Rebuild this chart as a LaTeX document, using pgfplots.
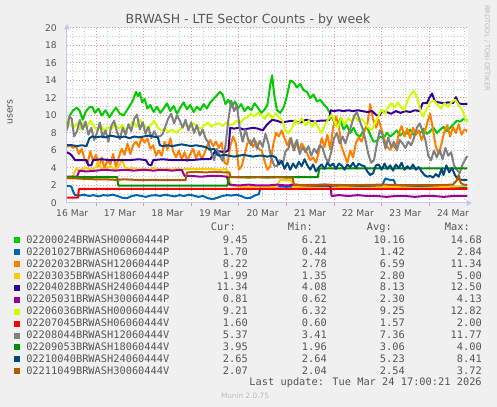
\documentclass[border=0pt]{standalone}
\usepackage{fontspec}
\setmainfont{DejaVu Sans}
\newfontfamily\mono{DejaVu Sans Mono}
\usepackage{pgfplots}
\pgfplotsset{compat=1.18}
\usetikzlibrary{arrows.meta}

\definecolor{bgc}{HTML}{F0F0F0}
\definecolor{txt}{HTML}{555555}
\definecolor{axc}{HTML}{C4C8F0}
\definecolor{mgrid}{HTML}{E39A9A}
\definecolor{ngrid}{HTML}{CCCCCC}
\definecolor{wm}{HTML}{BBBBBB}
\definecolor{c1}{HTML}{00CC00}
\definecolor{c2}{HTML}{0066B3}
\definecolor{c3}{HTML}{FF8000}
\definecolor{c4}{HTML}{FFCC00}
\definecolor{c5}{HTML}{330099}
\definecolor{c6}{HTML}{990099}
\definecolor{c7}{HTML}{CCFF00}
\definecolor{c8}{HTML}{FF0000}
\definecolor{c9}{HTML}{808080}
\definecolor{c10}{HTML}{008F00}
\definecolor{c11}{HTML}{00487D}
\definecolor{c12}{HTML}{B35A00}

\begin{document}
\begin{tikzpicture}[x=0.75pt,y=0.75pt]
\fill[bgc] (0,0) rectangle (497,407);
\begin{axis}[
  at={(50.25pt,153pt)}, anchor=south west,
  scale only axis, width=300.75pt, height=131.25pt,
  xmin=0.39, xmax=8.815, ymin=0, ymax=20,
  axis background/.style={fill=white},
  axis x line*=bottom, axis y line*=left,
  axis line style={draw=axc, line width=0.75pt, -{Triangle[length=4pt,width=4pt]}, shorten >=-3pt},
  grid=both,
  major grid style={draw=mgrid, line width=0.75pt, dash pattern=on 0.75pt off 1.5pt},
  minor grid style={draw=ngrid, line width=0.75pt, dash pattern=on 0.75pt off 1.5pt},
  xtick={1,2,3,4,5,6,7,8}, xticklabels={},
  minor xtick={0.5,0.75,1.25,1.5,1.75,2.25,2.5,2.75,3.25,3.5,3.75,4.25,4.5,4.75,5.25,5.5,5.75,6.25,6.5,6.75,7.25,7.5,7.75,8.25,8.5,8.75},
  ytick={0,2,...,20}, minor ytick={1,3,...,19},
  extra x ticks={0.5,1.5,2.5,3.5,4.5,5.5,6.5,7.5,8.5},
  extra x tick labels={16 Mar,17 Mar,18 Mar,19 Mar,20 Mar,21 Mar,22 Mar,23 Mar,24 Mar},
  extra x tick style={grid=none, major tick length=0pt},
  tick label style={font=\fontsize{6.9}{8}\selectfont, text=txt},
  xticklabel style={inner sep=0pt, anchor=north, yshift=-4.7pt},
  yticklabel style={inner sep=0pt, anchor=east, xshift=-5.25pt},
  ytick style={draw=none},
  xtick style={draw=mgrid, line width=0.75pt},
  tick align=outside, major tick length=2.25pt, minor tick length=0pt,
  /pgf/number format/assume math mode=true,
  every axis plot/.append style={line width=1.5pt, mark=none, line join=round},
]
% 02200024BRWASH00060444P
\addplot[c1] coordinates {
(0.39,8.9) (0.45,10.0) (0.52,10.6) (0.6,10.9) (0.66,10.5) (0.72,9.5) (0.78,10.4) (0.85,10.9) (0.92,11.0) (0.98,10.3) (1.05,10.8) (1.12,10.0) (1.2,10.6) (1.28,9.8) (1.35,10.4) (1.42,10.9) (1.5,10.2) (1.58,10.0) (1.65,10.6) (1.72,11.2) (1.78,11.8) (1.84,12.7) (1.88,12.2) (1.92,12.6) (1.97,11.5) (2.02,11.9) (2.08,10.8) (2.14,11.2) (2.21,10.4) (2.28,11.0) (2.35,10.3) (2.42,10.8) (2.49,11.4) (2.56,10.5) (2.63,11.1) (2.7,10.2) (2.77,10.9) (2.84,11.5) (2.91,10.7) (2.98,11.2) (3.05,10.4) (3.12,11.0) (3.19,10.6) (3.26,11.3) (3.33,10.8) (3.40,11.5) (3.47,11.9) (3.54,12.3) (3.6,12.7) (3.66,12.4) (3.72,11.3) (3.78,11.8) (3.85,11.0) (3.92,11.6) (3.98,10.8) (4.05,11.3) (4.12,10.5) (4.19,11.0) (4.26,10.6) (4.33,11.4) (4.40,10.9) (4.47,10.3) (4.53,10.6) (4.6,11.2) (4.66,13.5) (4.7,14.6) (4.74,12.5) (4.8,10.6) (4.87,10.3) (4.94,10.9) (5.0,12.0) (5.08,14.0) (5.15,13.8) (5.22,13.2) (5.29,13.6) (5.36,12.9) (5.43,12.7) (5.5,12.0) (5.57,12.4) (5.64,11.6) (5.71,11.8) (5.78,11.3) (5.85,10.9) (5.92,10.2) (5.99,9.4) (6.06,8.8) (6.13,9.6) (6.2,8.4) (6.27,8.9) (6.34,8.0) (6.41,8.6) (6.48,7.8) (6.55,7.6) (6.62,8.3) (6.69,8.7) (6.76,7.8) (6.83,7.0) (6.9,7.1) (6.97,7.6) (7.04,7.4) (7.11,8.0) (7.18,7.6) (7.25,7.9) (7.32,8.3) (7.39,7.7) (7.46,8.1) (7.53,7.9) (7.6,8.4) (7.67,7.8) (7.74,8.2) (7.81,8.0) (7.88,8.5) (7.95,7.9) (8.02,8.2) (8.09,8.6) (8.16,8.0) (8.23,8.4) (8.30,8.7) (8.37,8.2) (8.44,8.6) (8.51,9.0) (8.58,9.4) (8.65,9.3) (8.72,9.6) (8.8,9.45)
};
% 02201027BRWASH06060444P
\addplot[c2] coordinates {
(0.39,1.95) (0.48,1.9) (0.52,1.3) (0.56,0.9) (0.65,0.85) (0.75,0.95) (0.85,0.8) (0.95,0.9) (1.05,0.75) (1.15,0.9) (1.25,0.85) (1.35,0.95) (1.45,0.8) (1.55,0.6) (1.65,0.55) (1.75,0.8) (1.85,0.9) (1.95,0.8) (2.05,0.7) (2.15,0.85) (2.25,0.9) (2.35,0.8) (2.45,0.95) (2.55,0.85) (2.65,0.75) (2.75,0.9) (2.85,0.8) (2.95,0.95) (3.05,0.85) (3.15,0.7) (3.25,0.8) (3.35,0.55) (3.45,0.44) (3.55,0.6) (3.65,0.8) (3.75,0.9) (3.85,0.85) (3.95,0.95) (4.05,0.8) (4.15,0.55) (4.25,0.6) (4.35,0.9) (4.42,1.0) (4.46,1.9) (4.6,1.85) (4.8,1.9) (5.0,1.85) (5.2,1.9) (5.4,1.85) (5.6,1.9) (5.8,1.85) (6.0,1.9) (6.2,1.85) (6.4,1.9) (6.6,1.85) (6.8,1.9) (7.0,1.9) (7.08,2.8) (7.2,2.6) (7.26,2.6) (7.3,1.9) (7.5,1.85) (7.7,1.9) (7.9,1.85) (8.1,1.8) (8.3,1.85) (8.5,1.8) (8.7,1.75) (8.8,1.7)
};
% 02202032BRWASH12060444P
\addplot[c3] coordinates {
(0.39,6.4) (0.45,6.6) (0.52,6.3) (0.58,6.5) (0.64,5.6) (0.7,6.2) (0.76,5.0) (0.82,4.5) (0.88,5.9) (0.94,4.8) (1.0,5.5) (1.06,4.2) (1.12,5.2) (1.18,3.9) (1.24,5.0) (1.3,4.4) (1.36,5.6) (1.42,4.0) (1.48,5.3) (1.54,6.2) (1.6,5.5) (1.66,6.8) (1.72,5.6) (1.78,6.6) (1.84,7.0) (1.9,6.4) (1.96,7.5) (2.02,6.9) (2.08,7.4) (2.14,6.2) (2.2,6.6) (2.26,5.4) (2.32,6.0) (2.38,5.4) (2.44,7.0) (2.5,6.1) (2.56,7.4) (2.62,5.9) (2.68,5.2) (2.74,6.0) (2.8,5.0) (2.86,5.8) (2.92,4.8) (2.98,5.6) (3.04,6.2) (3.1,5.1) (3.16,5.9) (3.22,5.0) (3.28,5.7) (3.34,6.6) (3.4,7.2) (3.46,6.5) (3.52,7.0) (3.58,6.3) (3.64,6.9) (3.7,4.6) (3.76,4.4) (3.82,6.5) (3.88,7.6) (3.94,6.8) (4.0,3.8) (4.06,4.2) (4.12,5.5) (4.18,6.8) (4.24,7.2) (4.3,6.4) (4.36,7.0) (4.42,6.2) (4.48,6.0) (4.54,4.8) (4.6,3.8) (4.66,4.2) (4.72,6.6) (4.78,8.0) (4.84,7.6) (4.9,8.3) (4.96,7.4) (5.02,6.6) (5.08,7.4) (5.14,6.2) (5.2,7.0) (5.26,6.0) (5.32,6.8) (5.38,6.3) (5.44,5.6) (5.5,4.9) (5.56,5.2) (5.62,4.6) (5.68,5.8) (5.74,7.4) (5.8,6.4) (5.86,7.8) (5.92,6.1) (5.98,8.6) (6.04,9.9) (6.1,8.8) (6.16,6.4) (6.22,5.5) (6.28,4.6) (6.34,6.0) (6.4,5.2) (6.46,6.9) (6.52,7.5) (6.58,7.0) (6.64,8.2) (6.7,9.0) (6.76,11.3) (6.82,9.6) (6.88,8.6) (6.94,9.5) (7.0,8.4) (7.06,7.2) (7.12,6.4) (7.18,6.1) (7.24,6.6) (7.3,6.2) (7.36,8.0) (7.42,8.8) (7.48,7.6) (7.54,8.5) (7.6,7.4) (7.66,8.6) (7.72,7.8) (7.78,8.3) (7.84,7.2) (7.9,8.0) (7.96,9.2) (8.02,10.2) (8.08,8.4) (8.14,6.4) (8.2,5.6) (8.26,6.8) (8.32,8.2) (8.38,8.9) (8.44,7.6) (8.5,8.7) (8.56,8.0) (8.62,9.0) (8.68,7.8) (8.74,8.4) (8.8,8.22)
};
% 02203035BRWASH18060444P
\addplot[c4] coordinates {
(0.39,2.8) (0.5,2.8) (0.55,3.6) (0.6,4.0) (0.65,3.5) (0.7,3.9) (0.8,4.0) (0.9,3.8) (1.0,4.1) (1.05,4.8) (1.1,4.0) (1.2,3.9) (1.3,4.2) (1.4,3.8) (1.5,4.4) (1.55,5.0) (1.6,4.1) (1.7,3.9) (1.8,4.0) (1.9,3.8) (2.0,3.9) (2.1,3.8) (2.2,4.0) (2.3,3.9) (2.4,3.8) (2.5,3.9) (2.6,3.8) (2.7,3.9) (2.8,3.8) (2.9,3.9) (3.0,3.9) (3.2,3.9) (3.4,3.9) (3.6,3.8) (3.74,3.9) (3.78,2.8) (3.85,2.0) (4.0,1.9) (4.2,1.8) (4.4,1.9) (4.6,1.8) (4.8,1.9) (4.86,2.6) (5.0,2.6) (5.1,2.6) (5.14,1.8) (5.4,1.8) (5.8,1.7) (6.2,1.8) (6.6,1.7) (7.0,1.8) (7.4,1.8) (7.8,1.7) (8.2,1.8) (8.6,1.9) (8.8,1.99)
};
% 02204028BRWASH24060444P
\addplot[c5] coordinates {
(0.39,5.8) (0.46,5.6) (0.52,5.2) (0.56,4.9) (0.7,4.9) (0.8,4.9) (0.84,4.3) (0.9,4.3) (0.94,4.9) (1.1,5.0) (1.3,4.9) (1.5,4.9) (1.7,4.9) (1.9,5.0) (2.05,4.9) (2.1,4.4) (2.16,4.3) (2.2,4.9) (2.4,5.0) (2.6,4.9) (2.8,4.9) (3.0,4.9) (3.2,5.0) (3.4,5.0) (3.5,5.9) (3.6,5.9) (3.7,5.8) (3.78,6.0) (3.82,8.6) (3.9,8.5) (4.0,8.6) (4.1,8.4) (4.2,8.5) (4.3,8.6) (4.4,8.5) (4.5,8.3) (4.6,9.0) (4.7,9.5) (4.8,9.4) (4.9,9.2) (5.0,9.3) (5.1,9.4) (5.2,9.3) (5.3,9.2) (5.4,9.5) (5.5,9.4) (5.6,9.3) (5.7,9.4) (5.8,9.4) (5.9,9.5) (5.93,10.6) (6.0,10.5) (6.1,10.6) (6.2,10.5) (6.3,10.6) (6.4,10.5) (6.5,10.6) (6.6,10.5) (6.7,10.4) (6.8,10.5) (6.9,10.0) (6.96,10.0) (7.0,10.5) (7.1,10.4) (7.2,10.2) (7.3,10.5) (7.4,10.3) (7.5,10.5) (7.6,10.4) (7.7,10.6) (7.8,10.5) (7.86,11.4) (7.95,11.4) (8.0,12.0) (8.06,12.5) (8.12,11.6) (8.2,11.5) (8.3,11.4) (8.4,11.5) (8.5,11.4) (8.56,12.1) (8.62,11.4) (8.7,11.3) (8.8,11.34)
};
% 02205031BRWASH30060444P
\addplot[c6] coordinates {
(0.39,3.0) (0.6,3.0) (0.65,3.7) (0.8,3.6) (1.0,3.7) (1.2,3.8) (1.4,3.7) (1.6,3.8) (1.8,3.7) (2.0,3.8) (2.2,3.7) (2.4,3.8) (2.6,3.7) (2.8,3.8) (2.86,3.1) (3.0,3.1) (3.2,3.0) (3.4,3.1) (3.6,3.1) (3.75,3.0) (3.8,2.1) (4.0,2.0) (4.2,2.1) (4.4,2.0) (4.6,2.0) (4.8,2.1) (5.0,2.0) (5.2,2.1) (5.4,2.0) (5.6,2.0) (5.8,2.1) (5.92,2.0) (5.95,0.8) (6.1,0.9) (6.3,0.8) (6.5,0.9) (6.7,0.8) (6.9,0.8) (7.1,0.7) (7.3,0.8) (7.5,0.8) (7.7,0.7) (7.9,0.8) (8.1,0.8) (8.3,0.7) (8.5,0.8) (8.7,0.8) (8.8,0.81)
};
% 02206036BRWASH00060444V
\addplot[c7] coordinates {
(0.39,9.7) (0.45,9.0) (0.52,8.6) (0.6,9.1) (0.66,8.4) (0.72,9.2) (0.8,8.6) (0.88,9.4) (0.95,8.8) (1.02,8.3) (1.1,8.9) (1.18,8.2) (1.25,8.7) (1.32,8.4) (1.4,9.0) (1.48,8.5) (1.55,8.9) (1.62,8.3) (1.7,8.8) (1.78,9.3) (1.85,8.7) (1.92,9.5) (2.0,9.0) (2.08,8.4) (2.15,8.9) (2.22,9.4) (2.3,8.6) (2.37,8.3) (2.45,8.5) (2.52,8.1) (2.6,8.4) (2.68,8.0) (2.75,8.3) (2.82,8.7) (2.9,9.0) (2.98,8.6) (3.05,9.1) (3.12,8.7) (3.2,8.5) (3.28,8.9) (3.35,9.2) (3.42,8.7) (3.5,9.0) (3.58,9.1) (3.66,8.8) (3.74,9.2) (3.8,8.9) (3.88,9.0) (3.95,9.4) (4.02,9.1) (4.1,9.6) (4.18,9.8) (4.25,10.2) (4.32,9.9) (4.4,10.3) (4.47,10.1) (4.55,9.6) (4.62,10.3) (4.7,9.7) (4.77,10.2) (4.84,9.8) (4.92,9.4) (4.98,8.2) (5.05,8.0) (5.12,8.6) (5.18,9.5) (5.25,9.0) (5.32,9.7) (5.4,8.9) (5.47,9.4) (5.54,8.7) (5.6,9.3) (5.68,8.5) (5.74,8.0) (5.8,8.8) (5.88,9.6) (5.95,10.1) (6.02,9.2) (6.08,8.6) (6.15,9.8) (6.22,9.0) (6.3,9.7) (6.37,9.3) (6.44,9.9) (6.5,9.4) (6.58,9.6) (6.65,9.2) (6.72,8.6) (6.8,8.4) (6.87,9.3) (6.94,10.0) (7.0,10.7) (7.07,10.2) (7.14,11.0) (7.2,11.4) (7.27,10.9) (7.34,11.5) (7.4,11.0) (7.48,10.6) (7.55,11.8) (7.62,12.5) (7.68,12.8) (7.75,12.0) (7.82,10.4) (7.88,9.9) (7.95,10.8) (8.02,11.5) (8.1,11.7) (8.18,11.2) (8.25,10.8) (8.32,11.4) (8.4,11.0) (8.48,11.6) (8.55,11.8) (8.62,11.2) (8.7,10.6) (8.76,9.6) (8.8,9.21)
};
% 02207045BRWASH06060444V
\addplot[c8] coordinates {
(0.39,0.6) (0.62,0.6) (0.64,1.6) (2.0,1.6) (4.0,1.6) (6.0,1.6) (8.0,1.6) (8.8,1.6)
};
% 02208044BRWASH12060444V
\addplot[c9] coordinates {
(0.39,8.3) (0.44,9.9) (0.49,9.6) (0.54,7.6) (0.6,8.2) (0.66,9.5) (0.72,8.4) (0.78,9.3) (0.84,7.8) (0.9,8.6) (0.96,7.2) (1.02,8.0) (1.08,9.2) (1.14,7.5) (1.2,8.3) (1.26,7.0) (1.32,8.8) (1.38,9.4) (1.44,8.1) (1.5,7.3) (1.56,8.6) (1.62,7.8) (1.68,9.0) (1.74,8.2) (1.8,9.6) (1.86,10.1) (1.92,8.4) (1.98,9.2) (2.04,7.9) (2.1,8.7) (2.16,7.4) (2.22,8.2) (2.28,7.6) (2.34,7.6) (2.4,7.9) (2.46,8.8) (2.52,9.7) (2.58,10.2) (2.64,9.1) (2.7,10.0) (2.76,9.4) (2.82,8.6) (2.88,9.5) (2.94,8.3) (3.0,9.2) (3.06,8.0) (3.12,8.9) (3.18,7.7) (3.24,8.4) (3.3,7.4) (3.36,6.9) (3.42,5.8) (3.48,4.9) (3.54,6.2) (3.6,5.4) (3.66,4.8) (3.72,6.6) (3.78,9.5) (3.84,11.7) (3.9,10.5) (3.96,11.2) (4.02,8.5) (4.08,7.0) (4.14,8.4) (4.2,7.2) (4.26,6.6) (4.32,7.4) (4.38,6.2) (4.44,7.1) (4.5,6.4) (4.56,7.9) (4.62,6.8) (4.68,5.2) (4.74,4.3) (4.8,4.2) (4.86,4.9) (4.92,4.4) (4.98,5.9) (5.04,6.2) (5.1,7.4) (5.16,6.0) (5.22,7.2) (5.28,5.6) (5.34,6.4) (5.4,5.8) (5.46,6.5) (5.52,5.4) (5.58,6.2) (5.64,5.7) (5.7,6.6) (5.76,6.3) (5.82,5.2) (5.88,4.6) (5.94,5.8) (6.0,7.4) (6.06,8.0) (6.12,6.8) (6.18,7.6) (6.24,6.8) (6.3,7.9) (6.36,8.8) (6.42,9.9) (6.48,10.4) (6.54,9.4) (6.6,8.5) (6.66,7.2) (6.72,5.6) (6.78,4.6) (6.84,4.9) (6.9,6.7) (6.96,8.3) (7.02,7.8) (7.08,6.2) (7.14,7.5) (7.2,6.4) (7.26,7.0) (7.32,6.0) (7.38,7.2) (7.44,6.8) (7.5,6.3) (7.56,7.0) (7.62,6.6) (7.68,7.4) (7.74,8.6) (7.8,9.1) (7.86,8.2) (7.92,7.2) (7.98,5.4) (8.04,4.9) (8.1,6.0) (8.16,5.2) (8.22,6.1) (8.28,5.0) (8.34,6.3) (8.4,5.4) (8.46,5.8) (8.52,4.3) (8.58,3.8) (8.64,3.41) (8.7,4.4) (8.76,5.0) (8.8,5.37)
};
% 02209053BRWASH18060444V
\addplot[c10] coordinates {
(0.39,2.97) (0.8,2.97) (1.2,2.97) (1.44,2.97) (1.47,1.98) (2.0,1.98) (2.5,1.98) (3.0,1.98) (3.5,1.98) (3.76,1.98) (3.79,2.95) (4.2,2.95) (4.6,2.95) (5.0,2.95) (5.4,2.95) (5.66,2.95) (5.69,3.95) (6.2,3.95) (6.8,3.95) (7.4,3.95) (8.0,3.95) (8.8,3.95)
};
% 02210040BRWASH24060444V
\addplot[c11] coordinates {
(0.39,6.6) (0.5,6.6) (0.6,6.5) (0.7,6.6) (0.8,6.5) (0.86,7.4) (0.92,7.6) (1.0,7.5) (1.1,7.6) (1.2,7.5) (1.3,7.7) (1.4,7.6) (1.5,7.5) (1.6,7.6) (1.7,7.4) (1.8,7.6) (1.9,7.5) (2.0,7.6) (2.1,7.7) (2.2,7.6) (2.3,7.5) (2.34,6.6) (2.4,6.5) (2.5,6.6) (2.6,6.5) (2.7,6.6) (2.8,6.7) (2.9,6.6) (3.0,6.5) (3.1,6.6) (3.2,6.5) (3.3,6.4) (3.4,6.1) (3.48,6.2) (3.55,5.5) (3.6,5.4) (3.7,5.5) (3.8,5.4) (3.9,5.3) (4.0,5.4) (4.1,5.5) (4.2,5.4) (4.3,5.3) (4.4,5.4) (4.5,5.4) (4.6,5.3) (4.7,5.4) (4.78,5.2) (4.84,4.4) (4.9,4.8) (4.96,3.9) (5.02,4.6) (5.08,3.8) (5.14,4.5) (5.2,4.0) (5.26,4.7) (5.32,4.2) (5.38,5.0) (5.44,4.3) (5.5,3.8) (5.56,4.4) (5.62,3.6) (5.68,4.1) (5.74,4.4) (5.8,3.9) (5.86,4.6) (5.92,4.2) (5.98,4.5) (6.04,3.9) (6.1,4.5) (6.16,4.3) (6.22,3.8) (6.28,4.4) (6.34,4.1) (6.4,4.6) (6.46,4.0) (6.52,4.5) (6.58,4.3) (6.64,4.2) (6.7,3.6) (6.76,3.2) (6.82,3.4) (6.88,4.3) (6.94,4.4) (7.0,3.8) (7.06,4.5) (7.12,3.9) (7.18,4.3) (7.24,3.7) (7.3,4.4) (7.36,4.0) (7.42,4.6) (7.48,3.8) (7.54,4.2) (7.6,3.9) (7.66,4.4) (7.72,3.8) (7.78,4.1) (7.84,3.6) (7.9,3.2) (7.96,3.0) (8.02,3.1) (8.08,2.9) (8.14,3.3) (8.2,3.0) (8.26,3.9) (8.3,3.2) (8.36,4.3) (8.42,3.5) (8.48,4.0) (8.54,3.2) (8.6,2.7) (8.7,2.65) (8.8,2.65)
};
% 02211049BRWASH30060444V
\addplot[c12] coordinates {
(0.39,2.85) (0.6,2.8) (0.8,2.75) (1.0,2.7) (1.2,2.7) (1.4,2.65) (1.6,2.7) (1.8,2.65) (2.0,2.6) (2.2,2.65) (2.4,2.6) (2.6,2.6) (2.88,2.6) (2.91,3.5) (3.1,3.55) (3.3,3.5) (3.5,3.55) (3.7,3.5) (3.8,3.5) (3.83,2.95) (4.0,2.95) (4.2,2.9) (4.4,2.95) (4.6,2.9) (4.8,2.95) (5.0,2.9) (5.13,2.9) (5.16,2.05) (5.4,2.05) (5.8,2.1) (6.2,2.05) (6.6,2.05) (7.0,2.1) (7.4,2.05) (7.8,2.05) (8.2,2.05) (8.5,2.1) (8.58,2.6) (8.62,3.2) (8.66,2.3) (8.72,2.1) (8.8,2.07)
};
\end{axis}

\node[anchor=base, inner sep=0pt, text=txt, font=\fontsize{9.4}{11}\selectfont] at (248,407-24) {BRWASH - LTE Sector Counts - by week};
\node[rotate=90, inner sep=0pt, text=txt, font=\fontsize{7}{8}\selectfont] at (10,407-112) {users};
\node[rotate=-90, anchor=west, inner sep=0pt, text=wm, font=\fontsize{5}{6}\selectfont] at (487,402) {RRDTOOL / TOBI OETIKER};

\begin{scope}[every node/.style={inner sep=0pt, text=txt, font=\mono\fontsize{7.75}{9}\selectfont}]
\node[anchor=base east] at (236,407-231) {Cur:};
\node[anchor=base east] at (313,407-231) {Min:};
\node[anchor=base east] at (392,407-231) {Avg:};
\node[anchor=base east] at (470,407-231) {Max:};
\foreach \c/\n/\cu/\mi/\av/\ma [count=\i from 0] in {
  c1/02200024BRWASH00060444P/9.45/6.21/10.16/14.68,
  c2/02201027BRWASH06060444P/1.70/0.44/1.42/2.84,
  c3/02202032BRWASH12060444P/8.22/2.78/6.59/11.34,
  c4/02203035BRWASH18060444P/1.99/1.35/2.80/5.00,
  c5/02204028BRWASH24060444P/11.34/4.08/8.13/12.50,
  c6/02205031BRWASH30060444P/0.81/0.62/2.30/4.13,
  c7/02206036BRWASH00060444V/9.21/6.32/9.25/12.82,
  c8/02207045BRWASH06060444V/1.60/0.60/1.57/2.00,
  c9/02208044BRWASH12060444V/5.37/3.41/7.36/11.77,
  c10/02209053BRWASH18060444V/3.95/1.96/3.06/4.00,
  c11/02210040BRWASH24060444V/2.65/2.64/5.23/8.41,
  c12/02211049BRWASH30060444V/2.07/2.04/2.54/3.72}{
  \pgfmathsetmacro\yb{407-243.4-11.9*\i}
  \fill[\c] (14,\yb) rectangle (20,\yb+6);
  \node[anchor=base west] at (26,\yb) {\n};
  \node[anchor=base east] at (248,\yb) {\cu};
  \node[anchor=base east] at (327,\yb) {\mi};
  \node[anchor=base east] at (405,\yb) {\av};
  \node[anchor=base east] at (482,\yb) {\ma};
}
\node[anchor=base east] at (482,407-386) {Last update: Tue Mar 24 17:00:21 2026};
\end{scope}
\node[anchor=base, inner sep=0pt, text=wm, font=\fontsize{5.5}{6}\selectfont] at (245,407-399) {Munin 2.0.75};
\end{tikzpicture}
\end{document}
